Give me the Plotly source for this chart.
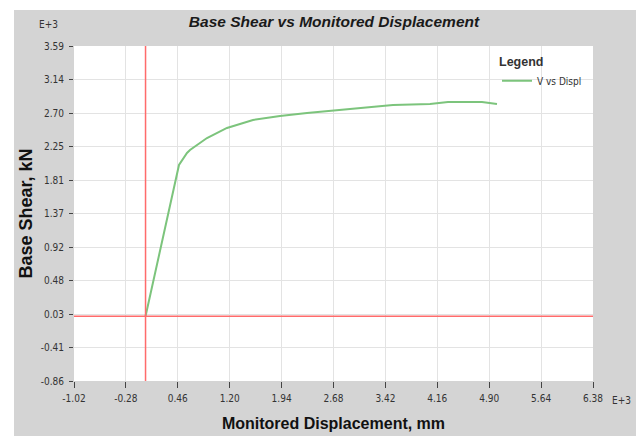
import plotly.graph_objects as go

# Data (values in E+3 units)
displ = [0.0, 0.477, 0.591, 0.634, 0.876, 1.161, 1.532, 1.917, 2.302, 2.730,
         3.058, 3.528, 4.056, 4.312, 4.797, 5.011]
shear = [0.0, 2.009, 2.169, 2.209, 2.368, 2.501, 2.607, 2.660, 2.700, 2.740,
         2.767, 2.807, 2.820, 2.846, 2.846, 2.820]

x_tickvals = [-1.02, -0.28, 0.46, 1.20, 1.94, 2.68, 3.42, 4.16, 4.90, 5.64, 6.38]
x_ticktext = ["-1.02", "-0.28", "0.46", "1.20", "1.94", "2.68", "3.42", "4.16", "4.90", "5.64", "6.38"]
y_tickvals = [-0.86, -0.415, 0.03, 0.475, 0.92, 1.365, 1.81, 2.255, 2.70, 3.145, 3.59]
y_ticktext = ["-0.86", "-0.41", "0.03", "0.48", "0.92", "1.37", "1.81", "2.25", "2.70", "3.14", "3.59"]

NARROW = "DejaVu Sans Condensed, Liberation Sans Narrow, Liberation Sans, Arial"
BOLD = "Liberation Sans, Arial"

fig = go.Figure()
fig.add_trace(go.Scatter(x=displ, y=shear, mode="lines", name="V vs Displ",
                         line=dict(color="#7cc47c", width=2)))

L, R, T, B = 74, 43, 46, 55
W, H = 636, 436
pw, ph = W - L - R, H - T - B

def px2paper_x(px):
    return (px - L) / pw

def px2paper_y(py):
    return (H - B - py) / ph

shapes = [
    # gray frame, then white plot area on top of it (both under gridlines)
    dict(type="rect", xref="paper", yref="paper", layer="below",
         x0=px2paper_x(14), x1=px2paper_x(640), y0=px2paper_y(440), y1=px2paper_y(10),
         fillcolor="#d4d4d4", line=dict(width=0)),
    dict(type="rect", xref="paper", yref="paper", layer="below",
         x0=0, x1=1, y0=0, y1=1,
         fillcolor="white", line=dict(width=0)),
    dict(type="line", xref="x", yref="paper", x0=0, x1=0, y0=0, y1=1,
         line=dict(color="#ff6b6b", width=1.5)),
    dict(type="line", xref="paper", yref="y", x0=0, x1=1, y0=0, y1=0,
         line=dict(color="#ff6b6b", width=1.5)),
]

fig.update_layout(
    width=W, height=H,
    margin=dict(l=L, r=R, t=T, b=B, autoexpand=False),
    paper_bgcolor="white",
    plot_bgcolor="white",
    shapes=shapes,
    title=dict(text="<b><i>Base Shear vs Monitored Displacement</i></b>",
               x=px2paper_x(334), xref="paper", xanchor="center",
               y=1 - 22 / H, yanchor="middle",
               font=dict(family=BOLD, size=15.5, color="#1a1a1a")),
    showlegend=True,
    legend=dict(x=px2paper_x(497), y=px2paper_y(50), xanchor="left", yanchor="top",
                bgcolor="rgba(255,255,255,0)",
                title=dict(text="<b>Legend</b>", font=dict(family=BOLD, size=12.5, color="#333333"), side="top"),
                font=dict(family=NARROW, size=10, color="#333333"),
                itemwidth=30),
    annotations=[
        dict(text="E+3", xref="paper", yref="paper", x=px2paper_x(48), y=px2paper_y(25),
             showarrow=False, xanchor="center", yanchor="middle",
             font=dict(family=NARROW, size=10, color="#333333")),
        dict(text="E+3", xref="paper", yref="paper", x=px2paper_x(621), y=px2paper_y(400),
             showarrow=False, xanchor="center", yanchor="middle",
             font=dict(family=NARROW, size=10, color="#333333")),
    ],
)

fig.update_xaxes(
    range=[-1.02, 6.38], tickvals=x_tickvals, ticktext=x_ticktext,
    showgrid=True, gridcolor="#e3e3e3", gridwidth=1,
    zeroline=False, showline=False, automargin=False,
    ticks="outside", ticklen=6, tickcolor="#444444",
    ticklabelstandoff=2,
    tickfont=dict(family=NARROW, size=10, color="#333333"),
    title=dict(text="<b>Monitored Displacement, mm</b>", standoff=14,
               font=dict(family=BOLD, size=16, color="#111111")),
)
fig.update_yaxes(
    range=[-0.86, 3.59], tickvals=y_tickvals, ticktext=y_ticktext,
    showgrid=True, gridcolor="#e3e3e3", gridwidth=1,
    zeroline=False, showline=False, automargin=False,
    ticks="outside", ticklen=4, tickcolor="#444444",
    ticklabelstandoff=3,
    tickfont=dict(family=NARROW, size=10, color="#333333"),
    title=dict(text="<b>Base Shear, kN</b>", standoff=3,
               font=dict(family=BOLD, size=18, color="#111111")),
)

fig.write_html("out.html")
